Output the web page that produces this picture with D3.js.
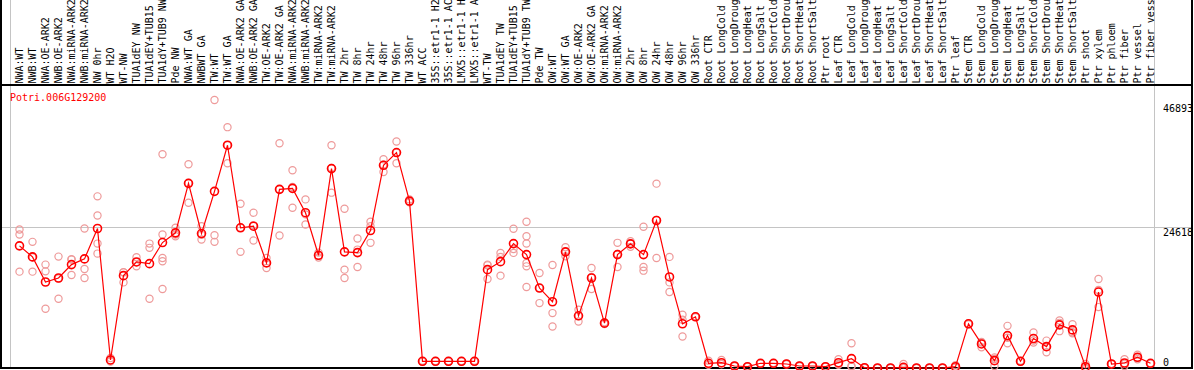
<!DOCTYPE html>
<html>
<head>
<meta charset="utf-8">
<script src="https://cdn.jsdelivr.net/npm/d3@7/dist/d3.min.js"></script>
<style>
  html, body { margin: 0; padding: 0; background: #fff; }
  svg { display: block; }
  text { font-family: "DejaVu Sans Mono", monospace; font-size: 10px; }
</style>
</head>
<body>
<div id="chart"></div>
<script>
const geneId = 'Potri.006G129200';

const sampleNames = [
  'NWA:WT', 'NWB:WT', 'NWA:OE-ARK2', 'NWB:OE-ARK2', 'NWA:miRNA-ARK2', 'NWB:miRNA-ARK2',
  'NW 0hr', 'WT H2O', 'WT-NW', 'TUA1dEY NW', 'TUA1dEY+TUB15 NW', 'TUA1dY+TUB9 NW', 'Pde NW',
  'NWA:WT GA', 'NWBWT GA', 'TW:WT', 'TW:WT GA', 'NWA:OE-ARK2 GA', 'NWB:OE-ARK2 GA',
  'TW:OE-ARK2', 'TW:OE-ARK2 GA', 'NWA:miRNA-ARK2 GA', 'NWB:miRNA-ARK2 GA', 'TW:miRNA-ARK2',
  'TW:miRNA-ARK2 GA', 'TW 2hr', 'TW 8hr', 'TW 24hr', 'TW 48hr', 'TW 96hr', 'TW 336hr', 'WT ACC',
  '35S::etr1-1 H2O', '35S::etr1-1 ACC', 'LMX5::etr1-1 H2O', 'LMX5::etr1-1 ACC', 'WT-TW',
  'TUA1dEY TW', 'TUA1dEY+TUB15 TW', 'TUA1dY+TUB9 TW', 'Pde TW',
  'OW:WT', 'OW:WT GA', 'OW:OE-ARK2', 'OW:OE-ARK2 GA', 'OW:miRNA-ARK2', 'OW:miRNA-ARK2 GA',
  'OW 2hr', 'OW 8hr', 'OW 24hr', 'OW 48hr', 'OW 96hr', 'OW 336hr',
  'Root CTR', 'Root LongCold', 'Root LongDrought', 'Root LongHeat', 'Root LongSalt',
  'Root ShortCold', 'Root ShortDrought', 'Root ShortHeat', 'Root ShortSalt', 'Ptr root',
  'Leaf CTR', 'Leaf LongCold', 'Leaf LongDrought', 'Leaf LongHeat', 'Leaf LongSalt',
  'Leaf ShortCold', 'Leaf ShortDrought', 'Leaf ShortHeat', 'Leaf ShortSalt', 'Ptr leaf',
  'Stem CTR', 'Stem LongCold', 'Stem LongDrought', 'Stem LongHeat', 'Stem LongSalt',
  'Stem ShortCold', 'Stem ShortDrought', 'Stem ShortHeat', 'Stem ShortSalt', 'Ptr shoot', 'Ptr xylem',
  'Ptr phloem', 'Ptr fiber', 'Ptr vessel', 'Ptr fiber vessel'
];

// number of samples in each block between the grey separators
const groupSizes = [13, 28, 12, 10, 10, 11, 1, 1, 1, 1];

// mean expression per sample
const meanValues = [
  21370, 19440, 15050, 15750, 18090, 19090, 24410, 1405, 16160, 18560, 18260, 21950, 23650,
  32310, 23530, 30910, 38980, 24530, 24810, 18390, 31260, 31430, 27170, 19720, 34890, 20320,
  20190, 24060, 35470, 37700, 29200, 1176, 1176, 1176, 1176, 1176, 17210, 18610, 21770, 19840, 13990,
  11590, 20320, 9130, 15750, 7850, 19840, 21720, 19840, 25810, 15930, 7730, 8960,
  825, 931, 351, 228, 825, 825, 702, 351, 351, 228,
  931, 1633, 50, 0, 0, 123, 0, 0, 0, 228,
  7730, 4210, 1282, 5670, 1176, 5150, 3740, 7550, 6670, 228, 13290,
  702, 878, 1879, 825
];

// individual replicates per sample
const replicateValues = [
  [24230, 23360, 16860], [22070, 16860, 19390], [18090, 16910, 10360], [19490, 12120, 15650],
  [18970, 16280, 19020], [24410, 17330, 15750], [30030, 26690, 21770, 20020], [1756, 1300, 1150],
  [16740, 14980, 16750], [19370, 17790, 18530], [21770, 21020, 12120],
  [37400, 23360, 19260, 18670, 13820], [24530, 23060, 23370],
  [35650, 28920, 32360], [24810, 22480, 23300], [46893, 23230, 22070], [42140, 35820, 38980],
  [28750, 20320, 24530], [27170, 22300, 24970], [19260, 17510, 18390], [39330, 23180, 31260],
  [34590, 28040, 31660], [29500, 25110, 26880], [20190, 19320, 19650], [38980, 30680, 35020],
  [27870, 17210, 15750], [22650, 20720, 17680], [25590, 24810, 21900], [36530, 34300, 35590],
  [39630, 35820, 37650], [29500, 28980, 29130], [1100, 1250, 1180], [1120, 1230, 1180],
  [1100, 1240, 1190], [1130, 1220, 1180], [1100, 1250, 1180], [18090, 15580, 17960],
  [20140, 19440, 16160], [24360, 20140, 20830], [25590, 23060, 21770, 18390, 17790, 14170],
  [16630, 11360, 13990],
  [18030, 9610, 7250], [21130, 19540, 20280], [10190, 8130, 9080], [17510, 13820, 15930],
  [7850, 7700, 8000], [21900, 17680, 19950], [22180, 21200, 21790], [24710, 17680, 17030],
  [32260, 19260, 25920], [19440, 14980, 13290], [9310, 8430, 5500], [8960, 9000, 8900],
  [1282, 600, 590], [1405, 702, 690], [351, 300, 400], [228, 200, 260], [825, 800, 850],
  [825, 780, 870], [702, 650, 750], [351, 300, 400], [351, 320, 380], [228, 200, 250],
  [1528, 702, 563], [4337, 228, 334], [50, 0, 100], [0, 0, 0], [0, 0, 0], [702, 0, 0],
  [0, 0, 0], [0, 0, 0], [0, 0, 0], [474, 100, 110],
  [7700, 7800, 7650], [4566, 3635, 4441], [1633, 351, 1862], [7375, 4337, 5304],
  [1100, 1250, 1180], [6199, 4443, 4793], [4794, 2757, 3669], [8306, 6445, 7902],
  [7674, 6093, 6252], [702, 0, 0], [15576, 10659, 13644],
  [702, 690, 720], [1528, 351, 760], [2335, 1528, 1780], [825, 800, 850]
];

const axisTicks = [0, 24618, 46893];

const width = 1194;
const height = 370;
const plot = { left: 1, right: 1192, top: 85, bottom: 368 };

const svg = d3.select('#chart').append('svg')
  .attr('width', width)
  .attr('height', height);

const x = d3.scaleBand()
  .domain(d3.range(sampleNames.length))
  .range([11, 11 + 13 * sampleNames.length]);

const pointOffset = 8.5;
const px = i => x(i) + pointOffset;

const y = d3.scaleLinear()
  .domain([0, d3.max(axisTicks)])
  .range([plot.bottom, 100]);

// group separator positions (in sample index)
const separators = [0].concat(d3.cumsum(groupSizes));

// horizontal grid line for the middle tick
svg.append('g').attr('class', 'hgrid')
  .selectAll('line')
  .data(axisTicks.filter(v => v > 0 && v < d3.max(axisTicks)))
  .join('line')
    .attr('x1', plot.left)
    .attr('x2', plot.right)
    .attr('y1', d => Math.round(y(d)) + 0.5)
    .attr('y2', d => Math.round(y(d)) + 0.5)
    .attr('stroke', '#c4c4c4')
    .attr('stroke-width', 1);

// vertical group separators, through label area and plot
svg.append('g').attr('class', 'vgrid')
  .selectAll('line')
  .data(separators)
  .join('line')
    .attr('x1', d => (d < sampleNames.length ? x(d) : x.range()[1]) - 0.5)
    .attr('x2', d => (d < sampleNames.length ? x(d) : x.range()[1]) - 0.5)
    .attr('y1', 0)
    .attr('y2', plot.bottom)
    .attr('stroke', '#c4c4c4')
    .attr('stroke-width', 1);

// sample labels, rotated
svg.append('g').attr('class', 'labels')
  .selectAll('text')
  .data(sampleNames)
  .join('text')
    .attr('transform', (d, i) => `translate(${px(i)},83.5) rotate(-90)`)
    .attr('dy', '0.36em')
    .attr('fill', '#000')
    .text(d => d);

// frame
const frame = svg.append('g').attr('class', 'frame')
  .attr('stroke', '#000').attr('stroke-width', 2).attr('fill', 'none');
frame.append('line').attr('x1', 0).attr('x2', plot.right + 1).attr('y1', plot.top).attr('y2', plot.top);
frame.append('line').attr('x1', 0).attr('x2', plot.right + 1).attr('y1', plot.bottom).attr('y2', plot.bottom);
frame.append('line').attr('x1', plot.left).attr('x2', plot.left).attr('y1', 0).attr('y2', plot.bottom + 1);
frame.append('line').attr('x1', plot.right).attr('x2', plot.right).attr('y1', 0).attr('y2', plot.bottom + 1);

// right side value labels
svg.append('g').attr('class', 'axis-labels')
  .selectAll('text')
  .data(axisTicks)
  .join('text')
    .attr('x', 1163)
    .attr('y', d => d === 0 ? y(d) - 2 : (d === d3.max(axisTicks) ? y(d) + 12 : y(d) + 8.5))
    .attr('fill', '#000')
    .text(d => d);

// title
svg.append('text')
  .attr('x', 10)
  .attr('y', 100.5)
  .attr('fill', '#ff0000')
  .text(geneId);

// replicate points
const reps = [];
replicateValues.forEach((vals, i) => vals.forEach(v => reps.push({ i, v })));

svg.append('g').attr('class', 'replicates')
  .selectAll('circle')
  .data(reps)
  .join('circle')
    .attr('cx', d => px(d.i))
    .attr('cy', d => y(d.v))
    .attr('r', 3.6)
    .attr('fill', 'none')
    .attr('stroke', '#ee9a9a')
    .attr('stroke-width', 1.2);

// mean line
const line = d3.line()
  .x((d, i) => px(i))
  .y(d => y(d));

svg.append('path')
  .datum(meanValues)
  .attr('d', line)
  .attr('fill', 'none')
  .attr('stroke', '#ff0000')
  .attr('stroke-width', 1.2);

// mean points
svg.append('g').attr('class', 'means')
  .selectAll('circle')
  .data(meanValues)
  .join('circle')
    .attr('cx', (d, i) => px(i))
    .attr('cy', d => y(d))
    .attr('r', 4)
    .attr('fill', 'none')
    .attr('stroke', '#ff0000')
    .attr('stroke-width', 1.6);
</script>
</body>
</html>
